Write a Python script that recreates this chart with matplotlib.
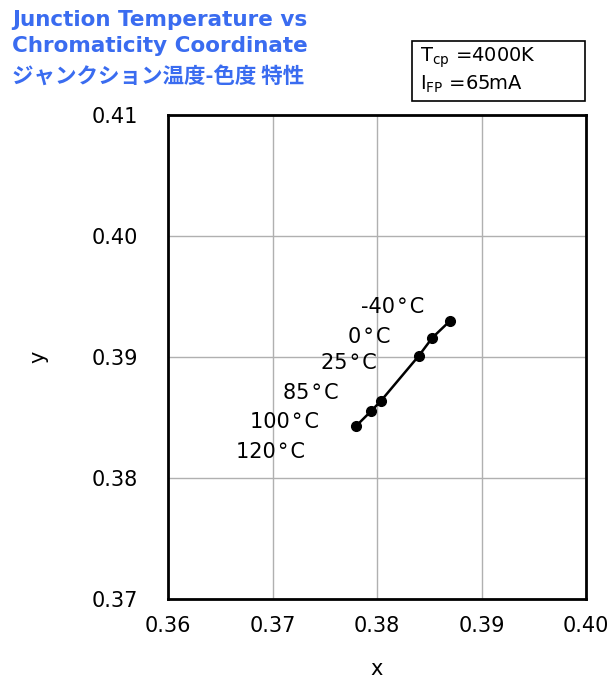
import matplotlib
matplotlib.use('Agg')
import matplotlib.pyplot as plt
from matplotlib.patches import Rectangle

plt.rcParams['font.family'] = ['DejaVu Sans']
plt.rcParams['mathtext.default'] = 'regular'

# chromaticity at each junction temperature
deg = '\u200a°\u200aC'
temps = ['-40' + deg, '0' + deg, '25' + deg, '85' + deg, '100' + deg, '120' + deg]
cx = [0.3870, 0.3853, 0.3840, 0.3804, 0.3794, 0.3780]
cy = [0.3930, 0.3916, 0.3901, 0.3864, 0.3855, 0.3843]
# label offsets from the points (pixels)
lab_dx = [-26, -42, -42, -43, -52, -51]
lab_dy = [14, 1, -7, 8, -11, -26]

xticks = [0.36, 0.37, 0.38, 0.39, 0.40]
yticks = [0.37, 0.38, 0.39, 0.40, 0.41]

fig = plt.figure(figsize=(6.10, 6.81), dpi=100)
ax = fig.add_axes([0.2754, 0.1204, 0.6853, 0.7107])

ax.plot(cx, cy, color='black', lw=1.8, marker='o', ms=7, zorder=3)
for t, x, y, dx, dy in zip(temps, cx, cy, lab_dx, lab_dy):
    ax.annotate(t, (x, y), xytext=(dx, dy), textcoords='offset pixels',
                ha='right', va='center', fontsize=15)

ax.set_xlim(0.36, 0.40)
ax.set_ylim(0.37, 0.41)
ax.set_xticks(xticks)
ax.set_yticks(yticks)
ax.set_xticklabels(['%.2f' % v for v in xticks], fontsize=15)
ax.set_yticklabels(['%.2f' % v for v in yticks], fontsize=15)
ax.tick_params(axis='x', length=0, pad=12)
ax.tick_params(axis='y', length=0, pad=21.5)
ax.grid(True, color='#b0b0b0', lw=1)
for s in ax.spines.values():
    s.set_linewidth(2)
ax.set_xlabel('x', fontsize=15, labelpad=17)
ax.set_ylabel('y', fontsize=15, labelpad=31)

blue = '#3a6cf0'
fig.text(12/610, 1 - 20/681, 'Junction Temperature vs', color=blue,
         fontsize=15.5, fontweight='bold', va='center')
fig.text(12/610, 1 - 46/681, 'Chromaticity Coordinate', color=blue,
         fontsize=15.5, fontweight='bold', va='center')
fig.text(12/610, 1 - 76/681, 'ジャンクション温度-色度 特性', color=blue,
         fontsize=15.5, fontweight='bold', va='center',
         family=['Noto Sans CJK JP', 'DejaVu Sans'])

fig.patches.append(Rectangle((412/610, 1 - 101/681), 173/610, 60/681,
                             transform=fig.transFigure, fill=False,
                             edgecolor='black', lw=1.2))
fig.text(420/610, 1 - 58/681, 'T$_{cp}$ =4000K', fontsize=14, va='center')
fig.text(420/610, 1 - 84/681, 'I$_{FP}$ =65mA', fontsize=14, va='center')

fig.savefig('out.png', dpi=100)
